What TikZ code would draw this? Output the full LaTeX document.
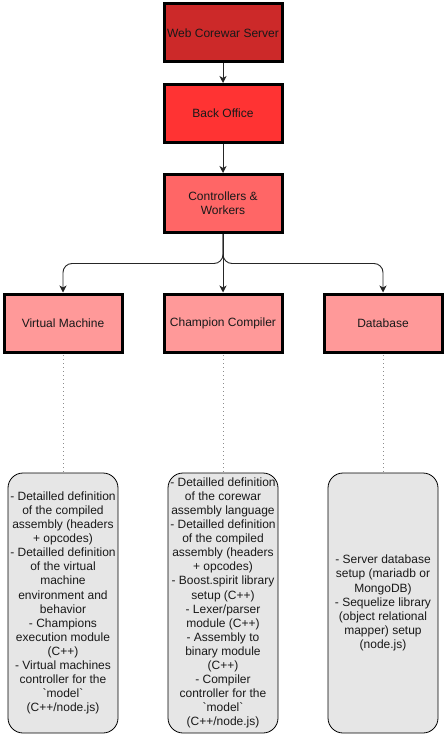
\documentclass[tikz,border=0pt]{standalone}
\usepackage{fontspec}
\newfontfamily\diagfont{Liberation Sans}
\usetikzlibrary{arrows.meta}
\definecolor{cTop}{HTML}{CC2929}
\definecolor{cBack}{HTML}{FF3333}
\definecolor{cCtrl}{HTML}{FF6666}
\definecolor{cMod}{HTML}{FF9999}
\definecolor{cNote}{HTML}{E6E6E6}
\begin{document}
\begin{tikzpicture}[x=1pt,y=-1pt,
  every node/.style={font=\diagfont\fontsize{12}{14.1}\selectfont, text=black!90},
  mainbox/.style={draw=black, line width=3pt, minimum width=118pt, minimum height=58pt, inner sep=2pt, align=center},
  notebox/.style={draw=black, line width=0.8pt, fill=cNote, rounded corners=15pt, minimum width=110pt, minimum height=260pt},
  notetext/.style={align=center, inner sep=0pt},
  conn/.style={draw=black!85, line width=0.9pt, -{Stealth[length=7pt,width=7pt,inset=2pt]}, rounded corners=9pt},
  dots/.style={draw=black!45, line width=0.9pt, dash pattern=on 1pt off 3pt}
]
\useasboundingbox (0,0) rectangle (445,735);

\node[mainbox, fill=cTop] (web) at (223,33) {Web Corewar Server};
\node[mainbox, fill=cBack] (back) at (223,113.5) {Back Office};
\node[mainbox, fill=cCtrl] (ctrl) at (223,203.5) {Controllers \&\\Workers};
\node[mainbox, fill=cMod] (vm) at (63,323) {Virtual Machine};
\node[mainbox, fill=cMod] (cc) at (223,323) {Champion Compiler};
\node[mainbox, fill=cMod] (db) at (383,323) {Database};

\node[notebox] (nvm) at (63,603) {};
\node[notebox] (ncc) at (223,603) {};
\node[notebox] (ndb) at (383,603) {};

\node[notetext] (tvm) at (nvm.center) {- Detailled definition\\of the compiled\\assembly (headers\\+ opcodes)\\- Detailled definition\\of the virtual\\machine\\environment and\\behavior\\- Champions\\execution module\\(C++)\\- Virtual machines\\controller for the\\`model`\\(C++/node.js)};
\node[notetext] (tcc) at (ncc.center) {- Detailled definition\\of the corewar\\assembly language\\- Detailled definition\\of the compiled\\assembly (headers\\+ opcodes)\\- Boost.spirit library\\setup (C++)\\- Lexer/parser\\module (C++)\\- Assembly to\\binary module\\(C++)\\- Compiler\\controller for the\\`model`\\(C++/node.js)};
\node[notetext] (tdb) at (ndb.center) {- Server database\\setup (mariadb or\\MongoDB)\\- Sequelize library\\(object relational\\mapper) setup\\(node.js)};

\draw[conn] (web.south) -- (back.north);
\draw[conn] (back.south) -- (ctrl.north);
\draw[conn] (ctrl.south) -- (cc.north);
\draw[conn] (ctrl.south) -- ++(0,29.5) -| (vm.north);
\draw[conn] (ctrl.south) -- ++(0,29.5) -| (db.north);

\draw[dots] (vm.south) ++(0,1.5) -- (nvm.north);
\draw[dots] (cc.south) ++(0,1.5) -- (ncc.north);
\draw[dots] (db.south) ++(0,1.5) -- (ndb.north);
\end{tikzpicture}
\end{document}
